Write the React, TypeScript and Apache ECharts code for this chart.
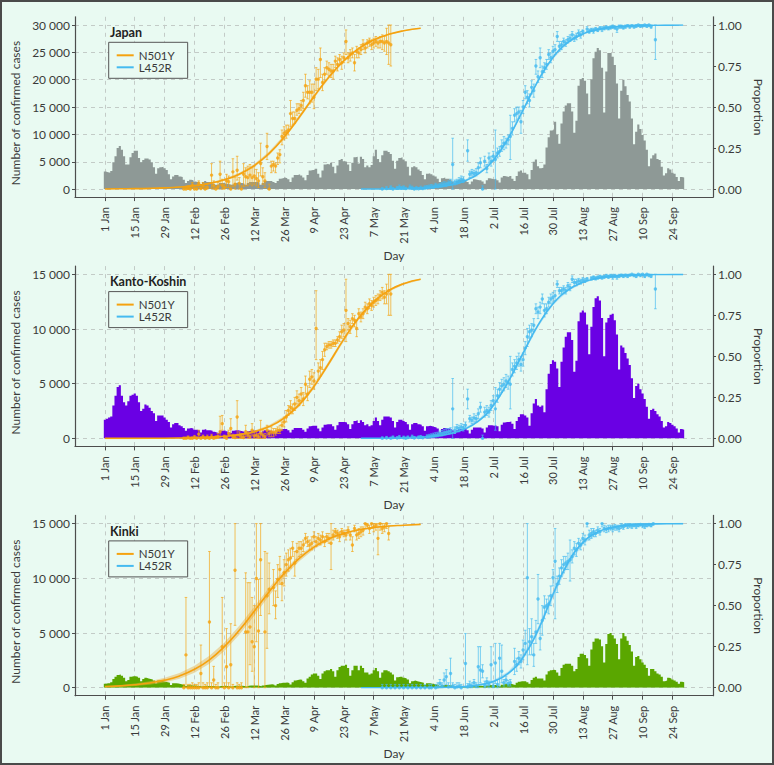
import React, { useEffect, useRef } from 'react';
import * as echarts from 'echarts';

const FONT = 'Lato, "Open Sans", sans-serif';
const BG = '#E9FAF2';
const ORANGE = '#F5A20F';
const BLUE = '#45BAF0';
const TEXT = '#3a3a3a';
const AXIS = '#4d4d4d';
const GRIDLINE = '#c3cbc7';

const regionNames = ['Japan', 'Kanto-Koshin', 'Kinki'];
const variantNames = ['N501Y', 'L452R'];
const barColors = ['#8E9996', '#6A00E4', '#5AA700'];
const casesMax = [30000, 15000, 15000];
const casesStep = 5000;
const proportionStep = 0.25;
const dateTickDays = [0, 14, 28, 42, 56, 70, 84, 98, 112, 126, 140, 154, 168, 182, 196, 210, 224, 238, 252, 266];
const dateTickLabels = ['1 Jan', '15 Jan', '29 Jan', '12 Feb', '26 Feb', '12 Mar', '26 Mar', '9 Apr', '23 Apr', '7 May', '21 May', '4 Jun', '18 Jun', '2 Jul', '16 Jul', '30 Jul', '13 Aug', '27 Aug', '10 Sep', '24 Sep'];

// daily confirmed cases, day 0 = 1 Jan
const japanCases = [
  3200, 3100, 3000,
  3300, 4900, 6000, 7500, 7900, 7200, 6000,
  4500, 4500, 5800, 6600, 7000, 7000, 5700,
  4900, 5300, 5600, 5600, 5400, 4900, 4000,
  2800, 3800, 4000, 4100, 3800, 3500, 2700,
  1800, 2300, 2600, 2600, 2300, 2200, 1700,
  1100, 1500, 1700, 1600, 1400, 1300, 1200,
  900, 1300, 1500, 1300, 1300, 1300, 1000,
  800, 900, 1100, 1100, 1200, 1000, 900,
  800, 900, 1100, 1200, 1100, 1100, 1000,
  800, 1100, 1300, 1300, 1300, 1300, 1200,
  800, 1100, 1500, 1500, 1500, 1500, 1300,
  1100, 1500, 1900, 2000, 2100, 2000, 1800,
  1300, 2100, 2600, 2600, 2700, 2500, 2100,
  1600, 2600, 3400, 3500, 3500, 3700, 2800,
  2100, 3400, 4500, 4600, 4500, 4800, 4100,
  2900, 4300, 5300, 5500, 5100, 5000, 4500,
  3300, 4800, 5800, 5900, 4700, 5900, 5500,
  4000, 4300, 4000, 4400, 6000, 7200, 5500,
  4900, 6200, 7000, 7000, 6800, 6400, 5200,
  3700, 5200, 5700, 5800, 5400, 5100, 4100,
  2500, 4000, 4200, 4000, 3600, 3300, 2600,
  1800, 2800, 2900, 2700, 2500, 2300, 1900,
  1300, 2000, 2100, 1900, 1900, 1700, 1400,
  900, 1500, 1700, 1700, 1600, 1500, 1300,
  900, 1400, 1800, 1700, 1600, 1600, 1400,
  1000, 1600, 2000, 1900, 1800, 1900, 1600,
  1200, 2100, 2400, 2300, 2200, 2400, 1900,
  1500, 2400, 3200, 3400, 3000, 3000, 2700,
  1800, 3500, 5000, 5400, 4200, 3800, 3900,
  4500, 7600, 9500, 10700, 10800, 12300, 10000,
  8300, 12000, 14200, 15300, 15700, 15700, 14200,
  10300, 12500, 18900, 20100, 20300, 19800, 17500,
  13700, 20100, 23900, 25100, 25800, 25400, 22200,
  14000, 21500, 24900, 24900, 24200, 22700, 19300,
  12900, 18000, 20000, 18800, 17200, 16000, 12900,
  8200, 10500, 11800, 11000, 9900, 8900, 7200,
  4200, 5600, 6200, 6500, 5500, 5300, 4100,
  2500, 2900, 3800, 3600, 3000, 2800, 2200,
  1500, 2200, 2100,
];

const kantoCases = [
  1700, 1800, 1900,
  2000, 3000, 3900, 4700, 4850, 3900, 3300,
  3000, 3400, 3900, 4000, 4100, 3900, 3300,
  2500, 2700, 3100, 3000, 2800, 2500, 2300,
  1600, 2100, 2100, 2100, 1900, 1700, 1500,
  1000, 1300, 1400, 1400, 1200, 1100, 950,
  700, 900, 950, 900, 800, 800, 750,
  550, 800, 850, 750, 750, 700, 600,
  550, 500, 700, 700, 750, 650, 550,
  500, 700, 750, 750, 700, 650, 600,
  450, 650, 700, 750, 700, 700, 650,
  450, 650, 750, 750, 700, 700, 600,
  450, 700, 800, 850, 850, 850, 750,
  550, 800, 950, 950, 950, 950, 800,
  600, 900, 1100, 1150, 1150, 1150, 900,
  650, 1000, 1250, 1300, 1300, 1300, 1100,
  800, 1200, 1500, 1500, 1500, 1450, 1300,
  850, 1300, 1600, 1650, 1400, 1650, 1500,
  1200, 1300, 1100, 1200, 1600, 1900, 1600,
  1200, 1700, 2000, 2000, 2000, 1900, 1600,
  1000, 1500, 1700, 1700, 1600, 1500, 1300,
  800, 1300, 1400, 1400, 1300, 1250, 1100,
  700, 1100, 1150, 1100, 1050, 1000, 900,
  550, 850, 950, 900, 900, 850, 750,
  450, 750, 850, 850, 850, 850, 750,
  450, 800, 1000, 1000, 1000, 1000, 900,
  550, 1000, 1200, 1200, 1150, 1200, 1100,
  650, 1250, 1450, 1500, 1500, 1550, 1350,
  850, 1600, 1950, 2200, 2200, 2100, 1900,
  1150, 2300, 3200, 3600, 3000, 2900, 3000,
  2400, 4500, 5900, 6800, 7150, 7000, 6400,
  4700, 7000, 8300, 9300, 9700, 9700, 9000,
  6100, 7100, 10700, 11500, 11700, 11500, 10400,
  7700, 10200, 12000, 12800, 13000, 12600, 11000,
  7500, 10600, 11000, 11300, 11400, 10800, 9500,
  6300, 8500, 8300, 7800, 7300, 6700, 5500,
  3700, 4800, 5000, 4500, 4100, 3600, 2900,
  1800, 2600, 2700, 2500, 2200, 2000, 1600,
  1000, 1100, 1500, 1400, 1250, 1100, 900,
  550, 850, 800,
];

const kinkiCases = [
  350, 400, 400,
  500, 800, 1000, 1150, 1200, 1100, 900,
  600, 700, 1000, 1050, 1050, 1000, 900,
  600, 800, 900, 850, 800, 750, 650,
  400, 650, 650, 600, 550, 500, 450,
  250, 400, 400, 380, 330, 300, 260,
  150, 230, 230, 200, 200, 180, 150,
  100, 150, 170, 160, 160, 150, 130,
  100, 110, 160, 160, 170, 150, 130,
  100, 150, 180, 180, 180, 170, 150,
  120, 170, 200, 200, 200, 200, 180,
  130, 200, 250, 280, 300, 320, 280,
  200, 330, 400, 450, 450, 470, 420,
  300, 500, 650, 700, 750, 720, 600,
  450, 850, 1000, 1200, 1300, 1300, 1100,
  800, 1300, 1500, 1600, 1600, 1700, 1500,
  1000, 1600, 1900, 2000, 2000, 2100, 1800,
  1100, 1600, 2000, 2000, 1600, 2000, 1800,
  1400, 1400, 1200, 1300, 1600, 1800, 1500,
  900, 1400, 1600, 1600, 1500, 1400, 1200,
  650, 950, 1000, 1000, 900, 850, 750,
  400, 600, 650, 600, 550, 500, 450,
  250, 400, 400, 350, 330, 300, 260,
  130, 230, 250, 230, 220, 200, 170,
  90, 150, 170, 160, 150, 140, 120,
  80, 150, 180, 180, 170, 170, 150,
  110, 200, 240, 250, 240, 250, 220,
  150, 270, 320, 340, 330, 350, 300,
  250, 450, 550, 600, 600, 580, 500,
  350, 700, 900, 1000, 850, 850, 850,
  650, 1200, 1500, 1600, 1650, 1600, 1400,
  1100, 1800, 2100, 2200, 2200, 2200, 2000,
  1500, 1700, 2800, 3100, 3100, 3000, 2700,
  2000, 3500, 4200, 4500, 4500, 4400, 3800,
  2300, 4000, 4900, 5000, 4800, 4500, 4000,
  2600, 4500, 5000, 4700, 4300, 3900, 3300,
  2000, 2800, 2900, 2600, 2300, 2100, 1800,
  1100, 1700, 1700, 1500, 1300, 1200, 1000,
  600, 650, 900, 850, 750, 650, 550,
  350, 550, 500,
];

// fitted proportion curves [day, proportion]
const japanN501YCurve = [[0, 0.001], [7, 0.0017], [14, 0.0028], [21, 0.0046], [28, 0.0077], [35, 0.0128], [42, 0.021], [49, 0.035], [56, 0.057], [63, 0.091], [70, 0.143], [77, 0.218], [84, 0.317], [91, 0.436], [98, 0.564], [105, 0.683], [112, 0.782], [119, 0.857], [126, 0.909], [133, 0.943], [140, 0.965], [148, 0.98]];
const japanN501YCI = [0.001, 0.001, 0.002, 0.002, 0.003, 0.003, 0.004, 0.005, 0.006, 0.008, 0.01, 0.011, 0.012, 0.012, 0.011, 0.01, 0.008, 0.006, 0.005, 0.004, 0.003, 0.003];
const japanL452RCurve = [[120, 0.0003], [126, 0.0006], [133, 0.0012], [140, 0.0026], [147, 0.0054], [154, 0.011], [161, 0.023], [168, 0.047], [175, 0.093], [182, 0.176], [189, 0.309], [196, 0.482], [203, 0.66], [210, 0.802], [217, 0.894], [224, 0.946], [231, 0.973], [238, 0.987], [245, 0.994], [252, 0.997], [259, 0.9986], [266, 0.9993], [271, 0.9996]];
const japanL452RCI = [0, 0, 0, 0.001, 0.001, 0.002, 0.003, 0.005, 0.008, 0.01, 0.012, 0.012, 0.011, 0.009, 0.007, 0.005, 0.003, 0.002, 0.001, 0.001, 0, 0, 0];
const kantoN501YCurve = [[0, 0.0001], [14, 0.0004], [28, 0.0012], [42, 0.004], [49, 0.0072], [56, 0.013], [63, 0.023], [70, 0.041], [77, 0.072], [84, 0.124], [91, 0.204], [98, 0.317], [105, 0.458], [112, 0.605], [119, 0.735], [126, 0.834], [133, 0.901], [140, 0.943], [148, 0.97]];
const kantoN501YCI = [0, 0, 0.001, 0.002, 0.002, 0.003, 0.005, 0.007, 0.009, 0.011, 0.013, 0.014, 0.014, 0.013, 0.012, 0.01, 0.008, 0.006, 0.005];
const kantoL452RCurve = [[120, 0.0004], [126, 0.0008], [133, 0.0016], [140, 0.0032], [147, 0.0065], [154, 0.013], [161, 0.027], [168, 0.054], [175, 0.105], [182, 0.2], [189, 0.345], [196, 0.52], [203, 0.69], [210, 0.82], [217, 0.903], [224, 0.951], [231, 0.976], [238, 0.988], [245, 0.994], [252, 0.997], [259, 0.9986], [266, 0.9993], [271, 0.9996]];
const kantoL452RCI = [0, 0, 0, 0.001, 0.001, 0.002, 0.003, 0.005, 0.008, 0.01, 0.012, 0.012, 0.011, 0.009, 0.007, 0.005, 0.003, 0.002, 0.001, 0.001, 0, 0, 0];
const kinkiN501YCurve = [[0, 0.007], [7, 0.011], [14, 0.018], [21, 0.029], [28, 0.046], [35, 0.072], [42, 0.112], [49, 0.17], [56, 0.25], [63, 0.35], [70, 0.466], [77, 0.585], [84, 0.696], [91, 0.787], [98, 0.857], [105, 0.907], [112, 0.94], [119, 0.962], [126, 0.976], [133, 0.985], [140, 0.99], [148, 0.995]];
const kinkiN501YCI = [0.004, 0.006, 0.008, 0.011, 0.014, 0.018, 0.021, 0.024, 0.026, 0.027, 0.027, 0.025, 0.022, 0.018, 0.014, 0.01, 0.007, 0.005, 0.004, 0.003, 0.002, 0.002];
const kinkiL452RCurve = [[120, 0.00002], [133, 0.0001], [140, 0.0002], [147, 0.0005], [154, 0.0012], [161, 0.0029], [168, 0.0068], [175, 0.016], [182, 0.038], [189, 0.087], [196, 0.186], [203, 0.35], [210, 0.568], [217, 0.76], [224, 0.884], [231, 0.948], [238, 0.978], [245, 0.991], [252, 0.996], [259, 0.9985], [266, 0.9995], [271, 1]];
const kinkiL452RCI = [0, 0, 0, 0, 0, 0.001, 0.002, 0.004, 0.007, 0.011, 0.015, 0.019, 0.02, 0.018, 0.013, 0.008, 0.005, 0.003, 0.001, 0.001, 0, 0];

// observed proportions [day, proportion, lower, upper]
const japanN501YPoints = [[37,0,0,0.01],[38,0,0,0.01],[39,0.005,0,0.02],[40,0,0,0.01],[41,0.024,0.005,0.04],[42,0,0,0.01],[43,0,0,0.012],[44,0.035,0.01,0.05],[45,0.004,0,0.02],[46,0.02,0.005,0.04],[47,0,0,0.015],[48,0.01,0,0.03],[50,0.085,0.005,0.155],[51,0.02,0,0.05],[52,0,0,0.012],[53,0.015,0,0.04],[54,0.09,0.025,0.17],[55,0.024,0,0.06],[56,0.01,0,0.03],[57,0.05,0.01,0.09],[58,0.045,0.01,0.08],[59,0,0,0.02],[60,0.105,0.015,0.185],[61,0.03,0,0.07],[62,0.115,0.055,0.2],[63,0.035,0,0.07],[64,0,0,0.02],[65,0.09,0.015,0.155],[66,0.075,0.02,0.13],[67,0.07,0.02,0.14],[68,0.085,0.03,0.15],[69,0.07,0.02,0.13],[70,0.08,0.03,0.14],[71,0.065,0.02,0.12],[72,0.05,0.01,0.1],[73,0.156,0.08,0.28],[74,0.075,0.03,0.13],[75,0.05,0.01,0.1],[76,0.26,0.18,0.34],[77,0,0,0.03],[78,0.14,0.1,0.17],[79,0.15,0.11,0.17],[80,0.14,0.1,0.16],[81,0.19,0.15,0.22],[82,0.21,0.16,0.24],[83,0.32,0.27,0.36],[84,0.34,0.3,0.38],[85,0.35,0.31,0.39],[86,0.36,0.33,0.39],[87,0.46,0.38,0.54],[88,0.43,0.39,0.47],[89,0.43,0.4,0.47],[90,0.48,0.45,0.52],[91,0.49,0.46,0.52],[92,0.51,0.48,0.54],[93,0.54,0.49,0.59],[94,0.63,0.56,0.7],[95,0.59,0.55,0.63],[96,0.59,0.52,0.66],[97,0.59,0.53,0.64],[98,0.56,0.49,0.64],[99,0.67,0.6,0.74],[100,0.67,0.61,0.73],[101,0.79,0.68,0.86],[102,0.65,0.6,0.7],[103,0.7,0.66,0.74],[104,0.74,0.7,0.78],[105,0.73,0.69,0.77],[106,0.72,0.68,0.76],[107,0.72,0.67,0.76],[108,0.78,0.74,0.81],[109,0.76,0.72,0.8],[110,0.79,0.76,0.82],[111,0.77,0.73,0.81],[112,0.8,0.77,0.83],[113,0.9,0.82,0.97],[114,0.8,0.77,0.83],[115,0.82,0.78,0.85],[116,0.83,0.8,0.86],[117,0.77,0.72,0.82],[118,0.84,0.8,0.87],[119,0.83,0.8,0.86],[120,0.85,0.82,0.88],[121,0.88,0.85,0.91],[122,0.86,0.83,0.89],[123,0.89,0.86,0.91],[124,0.9,0.87,0.92],[125,0.88,0.85,0.91],[126,0.89,0.86,0.92],[127,0.9,0.87,0.93],[128,0.89,0.86,0.92],[129,0.9,0.86,0.93],[130,0.9,0.85,0.94],[131,0.89,0.84,0.93],[132,0.9,0.82,0.98],[133,0.89,0.76,1.0],[134,0.88,0.75,1.0]];
const japanL452RPoints = [[130,0,0,0.01],[132,0.003,0,0.015],[134,0.008,0,0.02],[135,0,0,0.01],[137,0.005,0,0.015],[138,0.01,0,0.025],[139,0.005,0,0.015],[140,0.008,0,0.02],[141,0.003,0,0.012],[143,0.01,0,0.025],[144,0.006,0,0.018],[145,0,0,0.01],[146,0.004,0,0.015],[147,0.002,0,0.01],[148,0.006,0,0.018],[149,0.003,0,0.012],[150,0.008,0,0.02],[151,0.01,0.002,0.022],[152,0.012,0.004,0.025],[153,0.015,0.005,0.028],[154,0.013,0.004,0.025],[155,0.02,0.01,0.035],[156,0.018,0.008,0.03],[157,0.022,0.012,0.035],[158,0.025,0.012,0.04],[159,0.03,0.015,0.045],[160,0.028,0.015,0.042],[161,0.035,0.02,0.05],[162,0.04,0.025,0.06],[163,0.15,0,0.31],[164,0.04,0.025,0.055],[165,0.045,0.03,0.06],[166,0.05,0.035,0.07],[167,0.06,0.04,0.08],[168,0.055,0.04,0.075],[170,0.234,0.17,0.3],[171,0.09,0.07,0.11],[172,0.1,0.08,0.12],[173,0.095,0.075,0.115],[174,0.1,0.08,0.125],[175,0.13,0.1,0.16],[176,0.16,0.13,0.19],[177,0,0,0.02],[178,0.17,0.14,0.2],[179,0.125,0.1,0.15],[180,0.19,0.16,0.22],[181,0.17,0.14,0.2],[182,0.2,0.17,0.23],[183,0.18,0,0.36],[184,0.22,0.19,0.25],[185,0.23,0.2,0.26],[186,0.26,0.23,0.3],[187,0.28,0.24,0.32],[188,0.28,0.25,0.31],[189,0.3,0.27,0.33],[190,0.32,0.18,0.45],[191,0.37,0.33,0.41],[192,0.45,0.41,0.49],[193,0.46,0.42,0.5],[194,0.47,0.43,0.5],[195,0.41,0.34,0.48],[196,0.5,0.46,0.54],[197,0.59,0.55,0.63],[198,0.56,0.52,0.6],[199,0.54,0.5,0.58],[200,0.62,0.58,0.66],[201,0.6,0.56,0.64],[202,0.75,0.7,0.79],[203,0.685,0.65,0.72],[204,0.8,0.74,0.86],[205,0.715,0.68,0.75],[206,0.74,0.71,0.77],[207,0.76,0.73,0.79],[208,0.82,0.79,0.85],[209,0.8,0.77,0.83],[210,0.84,0.81,0.87],[211,0.85,0.82,0.88],[212,0.93,0.9,0.96],[213,0.87,0.84,0.9],[214,0.88,0.85,0.9],[215,0.9,0.88,0.92],[216,0.89,0.87,0.91],[217,0.91,0.89,0.93],[218,0.92,0.9,0.94],[219,0.94,0.91,0.96],[220,0.92,0.9,0.94],[221,0.93,0.91,0.95],[222,0.95,0.93,0.97],[223,0.94,0.92,0.96],[224,0.96,0.94,0.97],[226,0.975,0.96,0.99],[227,0.96,0.95,0.975],[228,0.97,0.96,0.98],[229,0.965,0.95,0.98],[230,0.975,0.965,0.985],[231,0.97,0.96,0.98],[232,0.98,0.97,0.99],[233,0.975,0.96,0.99],[234,0.98,0.97,0.99],[235,0.985,0.975,0.995],[236,0.98,0.97,0.99],[237,0.985,0.975,0.995],[238,0.99,0.98,1],[239,0.985,0.975,0.995],[240,0.975,0.955,0.99],[241,0.99,0.98,1],[242,0.99,0.98,1],[243,0.985,0.975,0.995],[244,0.99,0.98,1],[245,0.995,0.99,1],[246,0.99,0.98,1],[247,0.995,0.99,1],[248,0.99,0.98,1],[249,0.995,0.985,1],[250,1,0.99,1],[251,0.995,0.985,1],[252,0.995,0.99,1],[253,1,0.99,1],[254,0.995,0.985,1],[255,1,0.99,1],[256,0.99,0.98,1],[258,0.91,0.79,1.0]];
const kantoN501YPoints = [[37,0,0,0.008],[38,0,0,0.008],[39,0.004,0,0.015],[40,0,0,0.008],[41,0,0,0.01],[42,0.005,0,0.018],[43,0,0,0.01],[44,0.026,0.005,0.05],[45,0,0,0.01],[46,0.008,0,0.02],[47,0,0,0.01],[48,0.006,0,0.02],[49,0,0,0.01],[50,0.01,0,0.025],[51,0,0,0.01],[52,0.005,0,0.015],[53,0.012,0,0.03],[54,0.04,0.007,0.135],[55,0.09,0.05,0.14],[56,0.008,0,0.02],[57,0,0,0.012],[58,0.03,0.01,0.05],[59,0.06,0.02,0.12],[60,0.01,0,0.025],[61,0.005,0,0.02],[62,0.13,0,0.23],[63,0.02,0,0.04],[64,0.01,0,0.03],[65,0.005,0,0.02],[66,0.04,0.01,0.08],[67,0.02,0,0.04],[68,0.01,0,0.03],[69,0.05,0.02,0.09],[70,0.015,0,0.035],[71,0.02,0,0.045],[72,0.01,0,0.03],[73,0.03,0,0.11],[74,0.02,0,0.05],[75,0.01,0,0.03],[76,0.05,0.02,0.08],[77,0.03,0.01,0.05],[78,0.04,0.01,0.07],[79,0.035,0.01,0.06],[80,0.04,0.02,0.06],[81,0.05,0.03,0.07],[82,0.05,0.03,0.08],[83,0.08,0.05,0.1],[84,0.1,0.07,0.13],[85,0.13,0.1,0.17],[86,0.17,0.14,0.2],[87,0.19,0.15,0.23],[88,0.18,0.15,0.21],[89,0.21,0.17,0.25],[90,0.25,0.21,0.29],[91,0.23,0.2,0.27],[92,0.27,0.23,0.31],[93,0.24,0.2,0.28],[94,0.33,0.27,0.38],[95,0.27,0.23,0.32],[96,0.36,0.31,0.41],[97,0.375,0.33,0.42],[98,0.35,0.3,0.4],[99,0.67,0.48,0.9],[100,0.41,0.36,0.46],[101,0.43,0.38,0.48],[102,0.48,0.42,0.53],[103,0.54,0.5,0.58],[104,0.56,0.54,0.58],[105,0.57,0.55,0.59],[106,0.57,0.55,0.59],[107,0.58,0.56,0.6],[108,0.58,0.56,0.6],[109,0.6,0.58,0.62],[110,0.62,0.59,0.65],[111,0.65,0.61,0.69],[112,0.66,0.62,0.7],[113,0.78,0.59,0.97],[114,0.7,0.66,0.73],[115,0.68,0.64,0.72],[116,0.73,0.7,0.76],[117,0.72,0.68,0.75],[118,0.67,0.62,0.72],[119,0.76,0.73,0.79],[120,0.74,0.71,0.77],[121,0.76,0.73,0.79],[122,0.8,0.77,0.83],[123,0.79,0.76,0.82],[124,0.82,0.79,0.85],[125,0.81,0.78,0.84],[126,0.83,0.8,0.86],[127,0.84,0.81,0.87],[128,0.85,0.82,0.88],[129,0.87,0.84,0.9],[130,0.89,0.85,0.92],[131,0.86,0.82,0.9],[132,0.88,0.82,0.94],[133,0.9,0.75,1.0],[134,0.88,0.75,1.0]];
const kantoL452RPoints = [[130,0,0,0.01],[132,0.003,0,0.012],[134,0,0,0.008],[135,0.005,0,0.015],[137,0.002,0,0.01],[138,0.006,0,0.018],[140,0.004,0,0.014],[141,0,0,0.008],[142,0.005,0,0.015],[144,0.008,0,0.02],[145,0.003,0,0.012],[147,0.005,0,0.015],[148,0.007,0,0.018],[149,0.004,0,0.013],[151,0.01,0,0.022],[152,0.012,0.003,0.025],[153,0.015,0.005,0.028],[154,0.018,0.006,0.032],[155,0.02,0.008,0.035],[156,0.022,0.01,0.038],[157,0.028,0.014,0.045],[158,0.03,0.015,0.048],[159,0.035,0.02,0.055],[160,0.038,0.022,0.058],[161,0.04,0.025,0.06],[162,0.045,0.028,0.065],[163,0.18,0,0.365],[164,0.05,0.03,0.07],[165,0.065,0.045,0.085],[166,0.06,0.04,0.08],[167,0.07,0.05,0.09],[168,0.065,0.045,0.085],[169,0.08,0.06,0.1],[170,0.24,0.18,0.3],[171,0.12,0.1,0.14],[172,0.11,0.09,0.13],[173,0.125,0.1,0.15],[174,0.12,0.1,0.14],[175,0.15,0.12,0.18],[176,0.19,0.16,0.22],[177,0,0,0.02],[178,0.16,0.13,0.19],[179,0.17,0.14,0.2],[180,0.16,0.13,0.19],[181,0.2,0.17,0.23],[182,0.23,0.2,0.26],[183,0.18,0.05,0.31],[184,0.26,0.22,0.3],[185,0.3,0.26,0.34],[186,0.32,0.28,0.36],[187,0.33,0.29,0.37],[188,0.35,0.31,0.39],[189,0.34,0.3,0.38],[190,0.33,0.18,0.5],[191,0.42,0.38,0.46],[192,0.44,0.4,0.48],[193,0.46,0.42,0.5],[194,0.48,0.44,0.52],[195,0.45,0.41,0.5],[196,0.48,0.44,0.52],[197,0.55,0.51,0.59],[198,0.62,0.56,0.67],[199,0.65,0.61,0.69],[200,0.66,0.62,0.7],[201,0.69,0.65,0.73],[202,0.79,0.76,0.82],[203,0.77,0.73,0.8],[204,0.8,0.76,0.83],[205,0.85,0.82,0.88],[206,0.78,0.74,0.82],[207,0.79,0.76,0.82],[208,0.83,0.8,0.86],[209,0.85,0.82,0.88],[210,0.86,0.83,0.89],[211,0.87,0.84,0.9],[212,0.94,0.92,0.96],[213,0.9,0.88,0.92],[214,0.9,0.88,0.92],[215,0.91,0.89,0.93],[216,0.9,0.88,0.92],[217,0.93,0.91,0.95],[218,0.92,0.9,0.94],[219,0.97,0.95,0.99],[220,0.95,0.93,0.97],[221,0.95,0.93,0.97],[222,0.96,0.94,0.975],[223,0.955,0.94,0.97],[224,0.965,0.95,0.98],[225,0.96,0.95,0.975],[226,0.97,0.96,0.98],[228,0.975,0.965,0.985],[229,0.98,0.97,0.99],[230,0.975,0.965,0.985],[231,0.98,0.97,0.99],[232,0.985,0.975,0.995],[233,0.98,0.97,0.99],[234,0.985,0.975,0.995],[235,0.99,0.98,1],[236,0.985,0.975,0.995],[237,0.99,0.98,1],[238,0.985,0.97,1],[239,0.99,0.98,1],[240,0.985,0.97,0.995],[241,0.99,0.98,1],[242,0.995,0.985,1],[243,0.99,0.98,1],[244,0.995,0.985,1],[245,0.99,0.98,1],[246,0.995,0.99,1],[247,1,0.99,1],[248,0.995,0.985,1],[249,0.99,0.98,1],[250,1,0.99,1],[251,0.995,0.985,1],[252,1,0.99,1],[253,0.99,0.98,1],[254,1,0.99,1],[255,0.995,0.985,1],[256,0.99,0.98,1],[258,0.91,0.79,1.0]];
const kinkiN501YPoints = [[37,0,0,0.02],[38,0.2,0,0.55],[39,0,0,0.02],[40,0,0,0.02],[41,0,0,0.03],[42,0,0,0.02],[43,0,0,0.02],[44,0,0,0.03],[45,0.087,0,0.26],[46,0,0,0.03],[47,0,0,0.02],[48,0,0,0.03],[49,0.4,0,0.83],[50,0,0,0.03],[51,0.047,0,0.13],[52,0,0,0.02],[53,0,0,0.03],[55,0.25,0,0.55],[56,0,0,0.03],[57,0.128,0,0.36],[58,0,0,0.03],[59,0.14,0,0.39],[60,0,0,0.02],[61,0.716,0.38,1.0],[62,0,0,0.03],[63,0,0,0.02],[64,0,0,0.03],[66,0.34,0,0.7],[67,0.34,0,0.64],[68,0.37,0.14,0.64],[69,0.28,0.1,0.55],[70,0.25,0,0.5],[71,0.665,0.28,1.0],[72,0.345,0,0.66],[73,0.78,0.44,1.0],[75,0.34,0,0.83],[76,0.56,0.24,0.82],[77,0.6,0.45,0.76],[79,0.61,0.5,0.72],[80,0.5,0.42,0.59],[81,0.66,0.55,0.75],[82,0.72,0.63,0.8],[83,0.635,0.53,0.68],[84,0.7,0.62,0.78],[85,0.75,0.68,0.82],[86,0.78,0.71,0.84],[87,0.79,0.73,0.85],[88,0.85,0.8,0.89],[89,0.76,0.68,0.83],[90,0.83,0.78,0.88],[91,0.85,0.8,0.89],[92,0.85,0.81,0.89],[93,0.87,0.83,0.9],[94,0.91,0.88,0.94],[95,0.89,0.86,0.92],[96,0.87,0.84,0.9],[97,0.88,0.84,0.92],[98,0.92,0.89,0.95],[99,0.89,0.86,0.92],[100,0.91,0.88,0.94],[101,0.9,0.87,0.93],[102,0.92,0.89,0.95],[103,0.89,0.86,0.92],[104,0.92,0.89,0.94],[105,0.91,0.88,0.94],[106,0.88,0.72,1.0],[107,0.93,0.9,0.96],[108,0.95,0.92,0.97],[109,0.94,0.91,0.96],[110,0.92,0.89,0.95],[111,0.95,0.93,0.97],[112,0.94,0.92,0.96],[113,0.93,0.9,0.96],[114,0.96,0.94,0.98],[115,0.93,0.9,0.95],[116,0.87,0.83,0.92],[117,0.97,0.95,0.99],[118,0.93,0.9,0.96],[119,0.94,0.91,0.97],[120,0.95,0.92,0.98],[121,0.96,0.93,0.98],[122,1.0,0.97,1.0],[123,0.99,0.97,1.0],[124,0.97,0.94,0.99],[125,1.0,0.97,1.0],[126,0.98,0.95,1.0],[127,0.99,0.96,1.0],[128,0.91,0.81,1.0],[129,1.0,0.96,1.0],[130,0.97,0.94,1.0],[131,0.98,0.95,1.0],[132,1.0,0.97,1.0],[133,0.94,0.9,0.98]];
const kinkiL452RPoints = [[130,0,0,0.02],[132,0,0,0.02],[134,0,0,0.02],[136,0,0,0.02],[138,0,0,0.02],[140,0,0,0.02],[142,0,0,0.02],[144,0,0,0.02],[146,0,0,0.02],[148,0,0,0.02],[150,0,0,0.02],[152,0,0,0.02],[153,0,0,0.02],[155,0,0,0.02],[156,0.005,0,0.03],[157,0.026,0,0.05],[158,0.01,0,0.03],[159,0.047,0.01,0.09],[160,0.067,0.02,0.11],[161,0.005,0,0.03],[162,0.087,0,0.18],[163,0.01,0,0.03],[164,0,0,0.02],[165,0.005,0,0.03],[166,0.01,0,0.03],[167,0,0,0.02],[169,0.148,0,0.33],[170,0.005,0,0.025],[171,0.016,0,0.04],[172,0.01,0,0.03],[173,0.03,0.01,0.05],[174,0.01,0,0.03],[175,0.128,0,0.25],[176,0.108,0.03,0.25],[177,0.1,0.06,0.14],[178,0.015,0,0.04],[179,0.037,0.01,0.06],[180,0.02,0,0.04],[181,0.14,0.03,0.25],[182,0.01,0,0.03],[183,0.15,0.026,0.27],[184,0.02,0,0.05],[185,0.18,0.006,0.27],[186,0.1,0.03,0.26],[187,0.03,0.01,0.05],[188,0.047,0.026,0.067],[189,0.026,0.01,0.045],[190,0.03,0.01,0.05],[192,0.16,0.08,0.24],[193,0.14,0.1,0.18],[194,0.18,0.14,0.22],[195,0.16,0.12,0.2],[196,0.23,0.17,0.29],[197,0.27,0.2,0.35],[198,0.67,0.14,1.0],[199,0.28,0.2,0.36],[200,0.31,0.2,0.42],[201,0.2,0.13,0.27],[202,0.34,0.27,0.41],[203,0.54,0.39,0.69],[204,0.3,0.23,0.37],[205,0.41,0.32,0.5],[206,0.49,0.42,0.56],[207,0.5,0.46,0.54],[208,0.51,0.45,0.56],[209,0.56,0.5,0.62],[210,0.67,0.62,0.72],[211,0.77,0.42,0.97],[212,0.63,0.58,0.68],[213,0.68,0.63,0.73],[214,0.73,0.68,0.78],[215,0.75,0.7,0.8],[216,0.76,0.72,0.8],[217,0.77,0.72,0.82],[218,0.78,0.65,0.9],[219,0.8,0.76,0.84],[220,0.85,0.81,0.89],[221,0.84,0.8,0.88],[222,0.88,0.85,0.91],[223,0.87,0.84,0.9],[224,0.91,0.88,0.94],[225,0.9,0.87,0.93],[226,1.0,0.98,1.0],[227,0.93,0.9,0.96],[228,0.94,0.91,0.97],[229,0.95,0.92,0.97],[230,0.94,0.92,0.96],[231,0.96,0.94,0.98],[232,0.95,0.93,0.97],[233,1.0,0.98,1.0],[234,0.97,0.95,0.99],[235,0.965,0.945,0.985],[236,0.97,0.95,0.99],[237,0.975,0.96,0.99],[238,0.97,0.95,0.99],[239,0.98,0.96,0.995],[240,0.975,0.96,0.99],[241,0.97,0.95,0.99],[242,0.985,0.97,1.0],[243,0.98,0.965,0.995],[244,0.99,0.98,1.0],[245,0.985,0.97,1.0],[246,0.99,0.975,1.0],[247,0.985,0.97,1.0],[248,0.99,0.98,1.0],[249,0.985,0.97,1.0],[250,0.99,0.98,1.0],[251,0.995,0.985,1.0],[252,0.99,0.975,1.0],[253,0.985,0.97,1.0],[254,0.99,0.98,1.0],[255,0.995,0.985,1.0],[256,0.99,0.98,1.0],[257,1.0,0.99,1.0]];

// layout
const W = 774;
const H = 765;
const PLOT_LEFT = 75;
const PLOT_RIGHT = 713;
const DAY_MIN = -14;
const DAY_MAX = 285;
const PANEL_STEP = 249.3;
const OUTER_TOP = 16.8;
const OUTER_H = 180.3;
const INNER_TOP = 25;
const INNER_H = 164.1;

const fmtThousands = (v: number) => String(v).replace(/\B(?=(\d{3})+(?!\d))/g, ' ');
const dayLabel = (v: number) => {
  const i = dateTickDays.indexOf(Math.round(v));
  return i >= 0 ? dateTickLabels[i] : '';
};

function makeErrorBars(color: string) {
  return (params: any, api: any) => {
    const x = api.value(0);
    const lo = api.coord([x, api.value(2)]);
    const hi = api.coord([x, api.value(3)]);
    const cap = 1.3;
    const style = { stroke: color, lineWidth: 0.9, opacity: 0.75 };
    return {
      type: 'group',
      children: [
        { type: 'line', shape: { x1: lo[0], y1: lo[1], x2: hi[0], y2: hi[1] }, style },
        { type: 'line', shape: { x1: lo[0] - cap, y1: lo[1], x2: lo[0] + cap, y2: lo[1] }, style },
        { type: 'line', shape: { x1: hi[0] - cap, y1: hi[1], x2: hi[0] + cap, y2: hi[1] }, style },
      ],
    };
  };
}

function makeBand(curve: number[][], ci: number[], fill: string) {
  return (params: any, api: any) => {
    if (params.dataIndex !== 0) return null;
    const upper = curve.map((c, i) => api.coord([c[0], Math.min(1, c[1] + (ci[i] || 0))]));
    const lower = curve.map((c, i) => api.coord([c[0], Math.max(0, c[1] - (ci[i] || 0))])).reverse();
    return { type: 'polygon', shape: { points: upper.concat(lower) }, style: { fill } };
  };
}

export default function App() {
  const ref = useRef<HTMLDivElement>(null);

  useEffect(() => {
    if (!ref.current) return;
    const chart = echarts.init(ref.current, null, { renderer: 'svg' });

    const regions = [
      { cases: japanCases, variants: [
        { points: japanN501YPoints, curve: japanN501YCurve, ci: japanN501YCI },
        { points: japanL452RPoints, curve: japanL452RCurve, ci: japanL452RCI }] },
      { cases: kantoCases, variants: [
        { points: kantoN501YPoints, curve: kantoN501YCurve, ci: kantoN501YCI },
        { points: kantoL452RPoints, curve: kantoL452RCurve, ci: kantoL452RCI }] },
      { cases: kinkiCases, variants: [
        { points: kinkiN501YPoints, curve: kinkiN501YCurve, ci: kinkiN501YCI },
        { points: kinkiL452RPoints, curve: kinkiL452RCurve, ci: kinkiL452RCI }] },
    ];
    const variantColors = [ORANGE, BLUE];
    const bandFills = ['rgba(232,175,70,0.45)', 'rgba(80,180,240,0.3)'];

    const pxPerDay = (PLOT_RIGHT - PLOT_LEFT) / (DAY_MAX - DAY_MIN);
    const tickLeft = PLOT_LEFT + (dateTickDays[0] - DAY_MIN) * pxPerDay;
    const tickRight = PLOT_LEFT + (dateTickDays[dateTickDays.length - 1] - DAY_MIN) * pxPerDay;

    const grid: any[] = [];
    const xAxis: any[] = [];
    const yAxis: any[] = [];
    const series: any[] = [];
    const title: any[] = [];
    const legend: any[] = [];

    const axisLineStyle = { color: AXIS, width: 1.2 };
    const labelStyle = { color: TEXT, fontFamily: FONT, fontSize: 12 };

    regionNames.forEach((region, i) => {
      const off = i * PANEL_STEP;
      grid.push({ left: PLOT_LEFT, right: W - PLOT_RIGHT, top: OUTER_TOP + off, height: OUTER_H });
      grid.push({ left: tickLeft, right: W - tickRight, top: OUTER_TOP + off, height: OUTER_H });
      grid.push({ left: PLOT_LEFT, right: W - PLOT_RIGHT, top: INNER_TOP + off, height: INNER_H });
      const gA = 3 * i, gB = 3 * i + 1, gC = 3 * i + 2;

      xAxis.push({
        gridIndex: gA, type: 'value', min: DAY_MIN, max: DAY_MAX, position: 'bottom',
        axisLine: { show: true, onZero: false, lineStyle: axisLineStyle },
        axisTick: { show: false }, axisLabel: { show: false }, splitLine: { show: false },
        name: 'Day', nameLocation: 'middle', nameGap: 52,
        nameTextStyle: { ...labelStyle, fontSize: 12 },
      });
      xAxis.push({
        gridIndex: gB, type: 'value', min: dateTickDays[0], max: dateTickDays[dateTickDays.length - 1],
        interval: dateTickDays[1] - dateTickDays[0], position: 'bottom',
        axisLine: { show: false, onZero: false },
        axisTick: { show: true, length: 4, lineStyle: { color: AXIS, width: 1 } },
        axisLabel: { show: true, rotate: 90, margin: 10, ...labelStyle, fontSize: 11, formatter: dayLabel },
        splitLine: { show: true, lineStyle: { color: GRIDLINE, width: 1, type: [4, 4] } },
      });
      xAxis.push({ gridIndex: gC, type: 'value', min: DAY_MIN, max: DAY_MAX, show: false });

      yAxis.push({
        gridIndex: gA, type: 'value', min: 0, max: 1, position: 'left',
        axisLine: { show: true, onZero: false, lineStyle: axisLineStyle },
        axisTick: { show: false }, axisLabel: { show: false }, splitLine: { show: false },
      });
      yAxis.push({
        gridIndex: gA, type: 'value', min: 0, max: 1, position: 'right',
        axisLine: { show: true, onZero: false, lineStyle: axisLineStyle },
        axisTick: { show: false }, axisLabel: { show: false }, splitLine: { show: false },
      });
      yAxis.push({ gridIndex: gB, type: 'value', min: 0, max: 1, show: false });
      yAxis.push({
        gridIndex: gC, type: 'value', min: 0, max: casesMax[i], interval: casesStep, position: 'left',
        axisLine: { show: false, onZero: false },
        axisTick: { show: true, length: 3, lineStyle: { color: AXIS, width: 1 } },
        axisLabel: { ...labelStyle, margin: 5, formatter: fmtThousands },
        splitLine: { show: true, lineStyle: { color: GRIDLINE, width: 1, type: [4, 4] } },
        name: 'Number of confirmed cases', nameLocation: 'middle', nameGap: 50,
        nameTextStyle: { ...labelStyle, fontSize: 12, padding: [0, 12, 0, 0] },
      });
      yAxis.push({
        gridIndex: gC, type: 'value', min: 0, max: 1, interval: proportionStep, position: 'right',
        axisLine: { show: false, onZero: false },
        axisTick: { show: true, length: 3, lineStyle: { color: AXIS, width: 1 } },
        axisLabel: { ...labelStyle, margin: 5, formatter: (v: number) => v.toFixed(2) },
        splitLine: { show: false },
        name: 'Proportion', nameLocation: 'middle', nameGap: 36, nameRotate: -90,
        nameTextStyle: { ...labelStyle, fontSize: 12 },
      });
      const xC = gC;
      const yCases = 5 * i + 3;
      const yProp = 5 * i + 4;

      const cases = regions[i].cases;
      const stepData = cases.map((v, d) => [d - 0.5, v]).concat([[cases.length - 0.5, cases[cases.length - 1]]]);
      series.push({
        type: 'line', name: region + ' cases', xAxisIndex: xC, yAxisIndex: yCases,
        data: stepData, step: 'end', symbol: 'none', showSymbol: false, silent: true,
        lineStyle: { width: 0, opacity: 0 },
        areaStyle: { color: barColors[i], opacity: 1 }, z: 1,
      });

      regions[i].variants.forEach((v, k) => {
        series.push({
          type: 'custom', name: variantNames[k] + ' band', xAxisIndex: xC, yAxisIndex: yProp,
          data: v.curve, encode: { x: 0, y: 1 }, renderItem: makeBand(v.curve, v.ci, bandFills[k]),
          silent: true, z: 2,
        });
      });
      regions[i].variants.forEach((v, k) => {
        const color = variantColors[k];
        series.push({
          type: 'custom', name: variantNames[k] + ' interval', xAxisIndex: xC, yAxisIndex: yProp,
          data: v.points, encode: { x: 0, y: 1 }, renderItem: makeErrorBars(color),
          silent: true, z: 3,
        });
        series.push({
          type: 'scatter', name: variantNames[k] + ' observed', xAxisIndex: xC, yAxisIndex: yProp,
          data: v.points.map((p) => [p[0], p[1]]), symbol: 'circle', symbolSize: 3.4,
          itemStyle: { color }, silent: true, z: 4,
        });
      });
      regions[i].variants.forEach((v, k) => {
        const color = variantColors[k];
        series.push({
          type: 'line', name: variantNames[k], xAxisIndex: xC, yAxisIndex: yProp,
          data: v.curve, smooth: 0.5, symbol: 'none', showSymbol: false,
          lineStyle: { color, width: 1.6 }, itemStyle: { color }, silent: true, z: 5,
        });
      });

      title.push({
        text: region, left: 110, top: 26 + off, padding: 0,
        textStyle: { fontFamily: FONT, fontSize: 12.5, fontWeight: 'bold', color: '#222' },
      });
      legend.push({
        orient: 'vertical', left: 108.7, top: 42.3 + off, padding: [7, 13, 5, 8], itemGap: 0,
        itemWidth: 17, itemHeight: 2, icon: 'rect', selectedMode: false,
        borderColor: '#555', borderWidth: 1, backgroundColor: BG,
        textStyle: { fontFamily: FONT, fontSize: 11.5, color: TEXT },
        data: [
          { name: variantNames[0], itemStyle: { color: ORANGE } },
          { name: variantNames[1], itemStyle: { color: BLUE } },
        ],
      });
    });

    chart.setOption({
      animation: false,
      backgroundColor: BG,
      textStyle: { fontFamily: FONT },
      title,
      legend,
      grid,
      xAxis,
      yAxis,
      series,
      graphic: [{
        type: 'rect', silent: true, z: 100,
        shape: { x: 1, y: 1, width: W - 2, height: H - 2 },
        style: { fill: 'none', stroke: '#4a4a4a', lineWidth: 2 },
      }],
    });

    return () => chart.dispose();
  }, []);

  return <div ref={ref} style={{ position: 'absolute', left: 0, top: 0, width: W, height: H }} />;
}
